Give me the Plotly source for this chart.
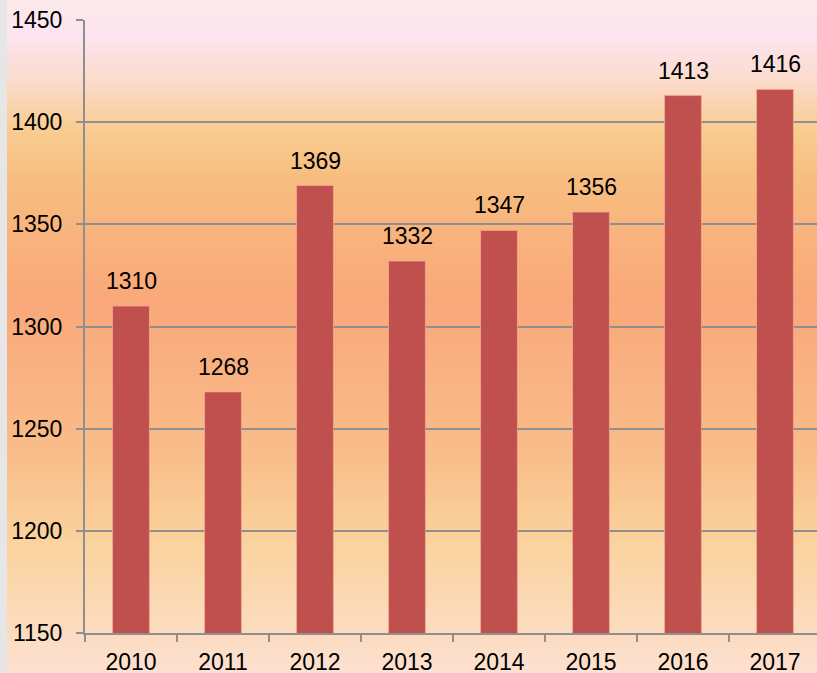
import numpy as np
import plotly.graph_objects as go

# Annual values
years = ["2010", "2011", "2012", "2013", "2014", "2015", "2016", "2017"]
values = [1310, 1268, 1369, 1332, 1347, 1356, 1413, 1416]

W, H = 817, 673
FONT = "Liberation Sans, Arial, sans-serif"
GRID = "#8f8f8f"

fig = go.Figure()
fig.add_trace(go.Bar(
    x=years, y=values, width=0.4,
    marker=dict(color="#c0504d", line=dict(color="rgba(245,170,150,0.7)", width=1)),
    hoverinfo="x+y",
))

# Value labels above the bars (category index positions)
for i, v in enumerate(values):
    fig.add_annotation(x=i, y=v, xref="x", yref="y", text=str(v), showarrow=False,
                       yanchor="middle", yshift=25,
                       font=dict(family=FONT, size=23, color="black"))

# Vertical background gradient (pixel row -> colour)
stops_px = [0, 35, 80, 130, 175, 300, 450, 545, 673]
stops_rgb = np.array([
    (251, 233, 234),
    (253, 228, 240),
    (251, 220, 205),
    (249, 204, 145),
    (248, 190, 128),
    (249, 168, 122),
    (249, 188, 136),
    (250, 211, 158),
    (253, 224, 208),
], dtype=float)
step = 2
shapes = []
x0 = 7 / W
for top in range(0, H, step):
    mid = top + step / 2
    c = [np.interp(mid, stops_px, stops_rgb[:, k]) for k in range(3)]
    col = "rgb(%d,%d,%d)" % tuple(int(round(v)) for v in c)
    shapes.append(dict(type="rect", xref="paper", yref="paper",
                       x0=x0, x1=1.01,
                       y0=1 - (top + step + 1) / H, y1=1 - (top - 0.5) / H,
                       fillcolor=col, line=dict(width=0), layer="below"))

fig.update_layout(
    width=W, height=H,
    margin=dict(l=0, r=0, t=0, b=0, autoexpand=False),
    paper_bgcolor="#e6e6e6",
    plot_bgcolor="rgba(0,0,0,0)",
    shapes=shapes,
    showlegend=False,
    xaxis=dict(
        domain=[85 / W, 1],
        range=[-0.5, -0.5 + (W - 85) / 92],
        type="category", automargin=False,
        showline=True, linecolor=GRID, linewidth=2,
        ticks="outside", tickson="boundaries", ticklen=7, tickwidth=2, tickcolor=GRID,
        showgrid=False, zeroline=False,
        tickfont=dict(family=FONT, size=23, color="black"),
        ticklabelstandoff=7,
    ),
    yaxis=dict(
        domain=[(H - 633) / H, (H - 20) / H],
        range=[1150, 1450], dtick=50, tick0=1150, automargin=False,
        showline=True, linecolor=GRID, linewidth=2,
        ticks="outside", ticklen=7, tickwidth=2, tickcolor=GRID,
        showgrid=True, gridcolor=GRID, gridwidth=2,
        zeroline=False,
        tickfont=dict(family=FONT, size=23, color="black"),
        ticklabelstandoff=9,
    ),
)

fig.write_html("out.html")
